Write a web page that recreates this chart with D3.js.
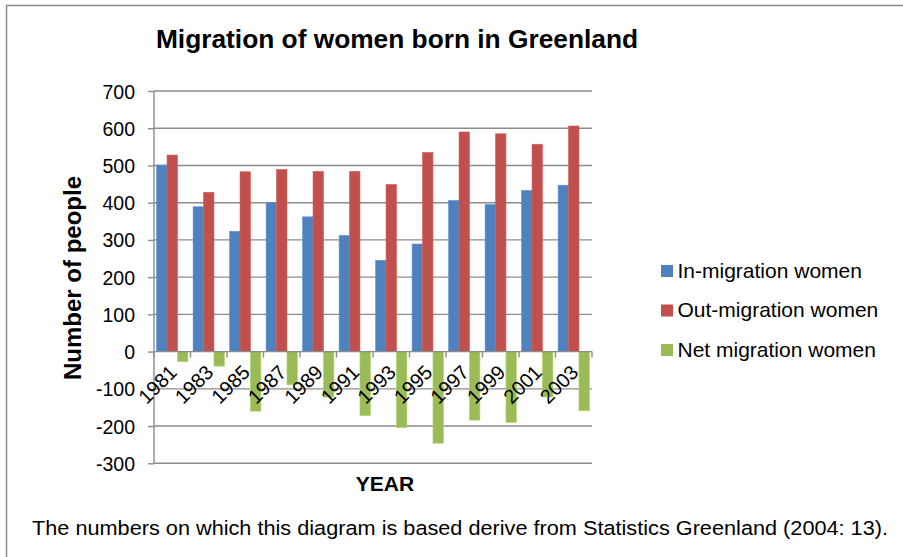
<!DOCTYPE html>
<html>
<head>
<meta charset="utf-8">
<script src="https://cdn.jsdelivr.net/npm/d3@7"></script>
<style>
  html, body { margin: 0; padding: 0; background: #fff; }
  svg { display: block; font-family: "Liberation Sans", Arial, sans-serif; }
</style>
</head>
<body>
<svg id="chart" width="903" height="557"></svg>
<script>
// Migration of women born in Greenland, every second year 1981-2003
const years = ["1981", "1983", "1985", "1987", "1989", "1991", "1993", "1995", "1997", "1999", "2001", "2003"];
const inMigration  = [501, 389, 323, 400, 362, 312, 245, 289, 406, 395, 433, 447];
const outMigration = [528, 428, 483, 489, 484, 484, 449, 535, 590, 585, 557, 606];
const netMigration = [-27, -39, -160, -89, -122, -172, -204, -246, -184, -190, -122, -159];
const seriesNames  = ["In-migration women", "Out-migration women", "Net migration women"];
const seriesColors = ["#4F81BD", "#C0504D", "#9BBB59"];
const yTicks = [-300, -200, -100, 0, 100, 200, 300, 400, 500, 600, 700];

const series = [inMigration, outMigration, netMigration];
const svg = d3.select("#chart");
const grid = "#8c8c8c";

// outer frame
svg.append("rect")
  .attr("x", 6.5).attr("y", 5.5)
  .attr("width", 940).attr("height", 600)
  .attr("fill", "none").attr("stroke", grid).attr("stroke-width", 1.5);

const plot = { left: 154, right: 592, top: 91, bottom: 463.3 };

const y = d3.scaleLinear().domain([-300, 700]).range([plot.bottom, plot.top]);
const x = d3.scaleBand().domain(years).range([plot.left, plot.right]).paddingInner(0).paddingOuter(0);
// clustered bars with a 150% gap: the band holds 3 bars plus 1.5 bar widths of gap
const inner = d3.scaleBand().domain(d3.range(3))
  .range([0, x.bandwidth()]).paddingInner(0).paddingOuter(0.75 / 3);

// horizontal gridlines
svg.append("g").selectAll("line").data(yTicks.filter(d => d !== 0)).join("line")
  .attr("x1", plot.left).attr("x2", plot.right)
  .attr("y1", d => y(d)).attr("y2", d => y(d))
  .attr("stroke", grid).attr("stroke-width", 1.4);

// y axis (left) with outside ticks; plain hyphen for negatives
const yAxis = svg.append("g")
  .attr("transform", `translate(${plot.left},0)`)
  .call(d3.axisLeft(y).tickValues(yTicks).tickSize(6).tickPadding(13).tickFormat(d => String(d)));
yAxis.select(".domain").attr("stroke", grid).attr("stroke-width", 1.4)
  .attr("d", `M0,${plot.top}V${plot.bottom}`);
yAxis.selectAll(".tick line").attr("stroke", grid).attr("stroke-width", 1.4);
yAxis.selectAll(".tick text")
  .attr("font-size", 19.5).attr("fill", "#000")
  .attr("font-family", "Liberation Sans, Arial, sans-serif")
  .attr("dy", "0.36em");

// bars
const barG = svg.append("g");
series.forEach((vals, si) => {
  barG.append("g").selectAll("rect").data(vals).join("rect")
    .attr("x", (d, i) => x(years[i]) + inner(si))
    .attr("width", inner.bandwidth())
    .attr("y", d => y(Math.max(0, d)))
    .attr("height", d => Math.abs(y(d) - y(0)))
    .attr("fill", seriesColors[si])
    .attr("stroke", d3.color(seriesColors[si]).brighter(0.35))
    .attr("stroke-width", 0.6);
});

// x axis on the zero line, ticks at category boundaries
const xAxisG = svg.append("g");
xAxisG.append("line")
  .attr("x1", plot.left).attr("x2", plot.right)
  .attr("y1", y(0)).attr("y2", y(0))
  .attr("stroke", grid).attr("stroke-width", 1.4);
const bounds = years.map(d => x(d)).concat([plot.right]);
xAxisG.selectAll("line.tk").data(bounds).join("line").attr("class", "tk")
  .attr("x1", d => d).attr("x2", d => d)
  .attr("y1", y(0)).attr("y2", y(0) + 6)
  .attr("stroke", grid).attr("stroke-width", 1.4);

// rotated year labels
xAxisG.selectAll("text").data(years).join("text")
  .attr("transform", d => `translate(${x(d) + x.bandwidth() / 2 - 4},${y(0) + 12}) rotate(-45)`)
  .attr("text-anchor", "end")
  .attr("dy", "0.7em")
  .attr("font-size", 20)
  .attr("fill", "#000")
  .text(d => d);

// title
svg.append("text")
  .attr("x", 397).attr("y", 48)
  .attr("text-anchor", "middle")
  .attr("font-size", 26.3).attr("font-weight", "bold")
  .text("Migration of women born in Greenland");

// axis titles
svg.append("text")
  .attr("transform", "translate(81,278) rotate(-90)")
  .attr("text-anchor", "middle")
  .attr("font-size", 24).attr("font-weight", "bold")
  .text("Number of people");

svg.append("text")
  .attr("x", 385).attr("y", 491)
  .attr("text-anchor", "middle")
  .attr("font-size", 21).attr("font-weight", "bold")
  .text("YEAR");

// legend
const legend = svg.append("g").attr("transform", "translate(661,265)");
seriesNames.forEach((name, i) => {
  const row = legend.append("g").attr("transform", `translate(0,${i * 39.5})`);
  row.append("rect").attr("width", 12).attr("height", 12).attr("fill", seriesColors[i]);
  row.append("text").attr("x", 16.5).attr("y", 12.5)
    .attr("font-size", 21).attr("fill", "#000").text(name);
});

// source note
svg.append("text")
  .attr("x", 32).attr("y", 535)
  .attr("font-size", 20.5).attr("fill", "#000")
  .attr("textLength", 856).attr("lengthAdjust", "spacingAndGlyphs")
  .text("The numbers on which this diagram is based derive from Statistics Greenland (2004: 13).");
</script>
</body>
</html>
